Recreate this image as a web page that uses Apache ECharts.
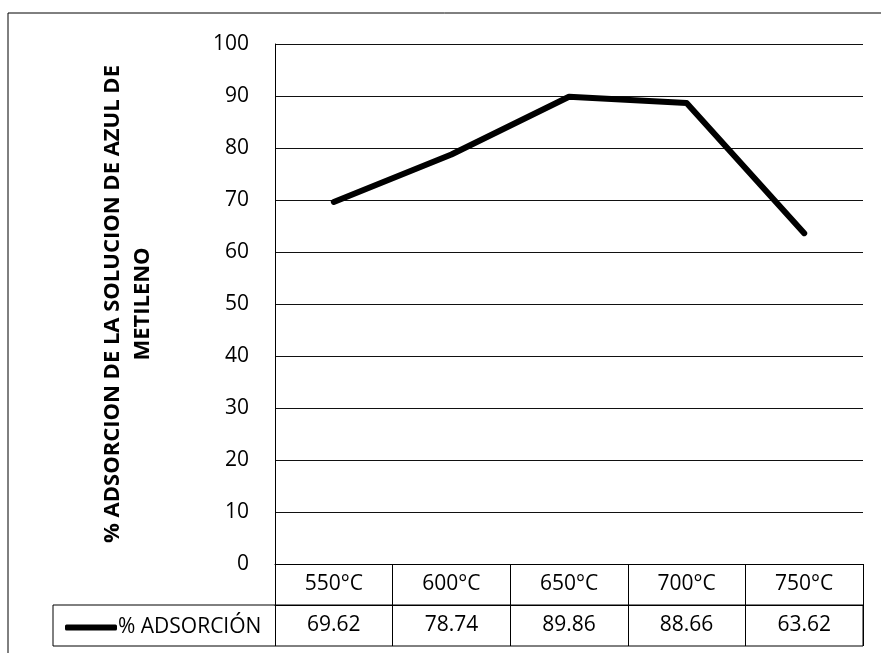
<!DOCTYPE html>
<html>
<head>
<meta charset="utf-8">
<script src="https://cdn.jsdelivr.net/npm/echarts@6/dist/echarts.min.js"></script>
<style>
  html, body { margin: 0; padding: 0; background: #fff; }
  #chart { width: 881px; height: 653px; }
</style>
</head>
<body>
<div id="chart"></div>
<script>
const categories = ["550°C", "600°C", "650°C", "700°C", "750°C"];
const adsorcion = [69.62, 78.74, 89.86, 88.66, 63.62];
const seriesName = "% ADSORCIÓN";
const yTitle = "% ADSORCION DE LA SOLUCION DE AZUL DE\nMETILENO";

const FONT = "'Open Sans', sans-serif";
const INK = "#000";
const FS = 21;

const chart = echarts.init(document.getElementById("chart"), null, { renderer: "canvas" });

chart.setOption({
  animation: false,
  backgroundColor: "#fff",
  grid: { left: 275, right: 18, top: 44, bottom: 89 },
  legend: {
    left: 60,
    top: 612,
    itemWidth: 52,
    itemHeight: 6,
    itemGap: 0,
    textStyle: { fontFamily: FONT, fontSize: FS, color: INK, padding: [0, 0, 0, -4] },
    data: [{ name: seriesName, icon: "roundRect" }]
  },
  xAxis: [
    {
      type: "category",
      data: categories,
      boundaryGap: true,
      axisLine: { show: true, lineStyle: { color: INK, width: 1 } },
      axisTick: { show: true, length: 41, lineStyle: { color: INK, width: 1 } },
      axisLabel: { margin: 9, fontFamily: FONT, fontSize: FS, color: INK, lineHeight: 22 }
    },
    {
      type: "category",
      position: "bottom",
      offset: 41,
      data: adsorcion.map(v => v.toFixed(2)),
      boundaryGap: true,
      axisLine: { show: true, lineStyle: { color: INK, width: 1 } },
      axisTick: { show: true, length: 41, lineStyle: { color: INK, width: 1 } },
      axisLabel: { margin: 9, fontFamily: FONT, fontSize: FS, color: INK, lineHeight: 22 }
    }
  ],
  yAxis: {
    type: "value",
    min: 0,
    max: 100,
    interval: 10,
    name: yTitle,
    nameLocation: "middle",
    nameRotate: 90,
    nameGap: 117,
    nameTextStyle: { fontFamily: FONT, fontSize: 22, fontWeight: "bold", color: INK, lineHeight: 30 },
    axisLine: { show: true, lineStyle: { color: INK, width: 1 } },
    axisTick: { show: false },
    axisLabel: { margin: 26, fontFamily: FONT, fontSize: FS, color: INK },
    splitLine: { lineStyle: { color: "#111", width: 1 } }
  },
  series: [
    {
      name: seriesName,
      type: "line",
      xAxisIndex: 0,
      data: adsorcion,
      symbol: "none",
      lineStyle: { color: INK, width: 6, join: "round", cap: "round" },
      itemStyle: { color: INK }
    }
  ],
  graphic: [
    // marco exterior (solo arriba e izquierda visibles)
    {
      type: "polyline",
      silent: true,
      shape: { points: [[8, 653], [8, 13], [881, 13]] },
      style: { stroke: INK, lineWidth: 1, fill: null }
    },
    // celda de la leyenda + borde inferior de la tabla
    {
      type: "rect",
      silent: true,
      shape: { x: 53, y: 605, width: 810, height: 41 },
      style: { stroke: INK, lineWidth: 1, fill: null }
    }
  ]
});
</script>
</body>
</html>
